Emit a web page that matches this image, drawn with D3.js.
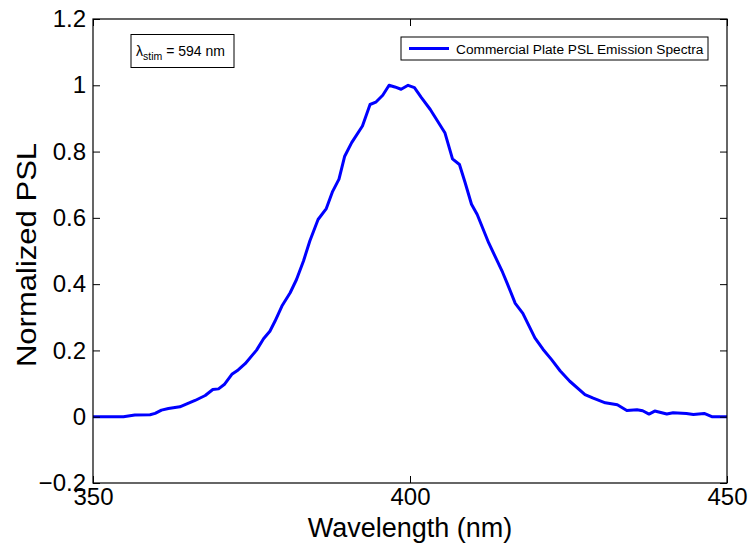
<!DOCTYPE html>
<html>
<head>
<meta charset="utf-8">
<script src="https://cdn.jsdelivr.net/npm/d3@7"></script>
<style>
  html, body { margin: 0; padding: 0; background: #fff; }
  svg { display: block; }
  text { font-family: "Liberation Sans", Arial, Helvetica, sans-serif; fill: #000; }
</style>
</head>
<body>
<svg id="chart" width="752" height="550"></svg>
<script>
const wavelength = [350, 354.8, 356.6, 359, 359.8, 360.8, 361.9, 363.7, 364.8, 366.1, 367.7, 368.9, 369.8, 370.7, 371.9, 372.9, 374, 375.8, 376.9, 377.9, 378.7, 379.8, 381.1, 382.1, 383.2, 384.2, 385.5, 386.8, 387.8, 388.8, 389.7, 390.8, 392.5, 393.7, 394.6, 395.7, 396.7, 397.6, 398.6, 399.7, 400.7, 401.8, 403.2, 405.5, 406.7, 407.8, 408.7, 409.7, 410.6, 412.4, 414.6, 415.3, 416.6, 417.8, 419.7, 421, 422.3, 423.7, 425.2, 427.6, 428.9, 430.8, 432.7, 434.2, 435.8, 436.7, 437.7, 438.6, 440.5, 441.5, 443.6, 444.7, 446.4, 447.6, 450];
const psl = [0, 0, 0.005, 0.006, 0.01, 0.02, 0.025, 0.03, 0.039, 0.049, 0.064, 0.082, 0.084, 0.097, 0.128, 0.141, 0.16, 0.201, 0.235, 0.258, 0.288, 0.334, 0.374, 0.414, 0.47, 0.53, 0.595, 0.628, 0.68, 0.717, 0.786, 0.827, 0.877, 0.942, 0.949, 0.97, 1.0, 0.995, 0.988, 1.0, 0.993, 0.963, 0.927, 0.857, 0.778, 0.761, 0.706, 0.641, 0.61, 0.525, 0.436, 0.404, 0.342, 0.312, 0.238, 0.203, 0.173, 0.138, 0.107, 0.067, 0.056, 0.042, 0.036, 0.019, 0.021, 0.018, 0.008, 0.017, 0.008, 0.012, 0.01, 0.007, 0.01, 0.0, 0.0];
const xTicks = [350, 400, 450];
const yTicks = [-0.2, 0, 0.2, 0.4, 0.6, 0.8, 1, 1.2];
const seriesName = "Commercial Plate PSL Emission Spectra";
const xLabel = "Wavelength (nm)";
const yLabel = "Normalized PSL";

const svg = d3.select("#chart");
const L = 93, R = 727, T = 19, B = 483;
const x = d3.scaleLinear().domain([350, 450]).range([L, R]);
const y = d3.scaleLinear().domain([-0.2, 1.2]).range([B, T]);
const fmt = d => d < 0 ? "\u2212" + Math.abs(d) : String(d);
const tickLen = 7;

// Curve (clipped to plot)
svg.append("defs").append("clipPath").attr("id", "clip")
  .append("rect").attr("x", L).attr("y", T).attr("width", R - L).attr("height", B - T);
const line = d3.line().x((d, i) => x(wavelength[i])).y(d => y(d));
svg.append("path").datum(psl).attr("clip-path", "url(#clip)")
  .attr("d", line).attr("fill", "none").attr("stroke", "#0000ff")
  .attr("stroke-width", 3).attr("stroke-linejoin", "round");

// Axes (MATLAB style, inward ticks on all sides)
const axB = d3.axisBottom(x).tickValues(xTicks).tickSizeInner(-tickLen).tickSizeOuter(0).tickPadding(5).tickFormat(fmt);
const axT = d3.axisTop(x).tickValues(xTicks).tickSizeInner(-tickLen).tickSizeOuter(0).tickFormat("");
const axL = d3.axisLeft(y).tickValues(yTicks).tickSizeInner(-tickLen).tickSizeOuter(0).tickPadding(7).tickFormat(fmt);
const axR = d3.axisRight(y).tickValues(yTicks).tickSizeInner(-tickLen).tickSizeOuter(0).tickFormat("");

function style(g) {
  g.select(".domain").remove();
  g.selectAll(".tick line").attr("stroke", "#000").attr("stroke-width", 1);
  g.selectAll(".tick text").style("font-size", "24px").attr("fill", "#000");
}
svg.append("g").attr("transform", `translate(0,${B})`).call(axB).call(style);
svg.append("g").attr("transform", `translate(0,${T})`).call(axT).call(style);
svg.append("g").attr("transform", `translate(${L},0)`).call(axL).call(style);
svg.append("g").attr("transform", `translate(${R},0)`).call(axR).call(style);

svg.append("rect").attr("x", L).attr("y", T).attr("width", R - L).attr("height", B - T)
  .attr("fill", "none").attr("stroke", "#000").attr("stroke-width", 1.2);

// Axis labels
svg.append("text").attr("x", (L + R) / 2).attr("y", 537).attr("text-anchor", "middle")
  .style("font-size", "27px").text(xLabel);
svg.append("text").attr("transform", `translate(36,${(T + B) / 2 + 4}) rotate(-90) scale(1.15,1)`)
  .attr("text-anchor", "middle").style("font-size", "27px").text(yLabel);

// Annotation box
svg.append("rect").attr("x", 131).attr("y", 34.5).attr("width", 103).attr("height", 33)
  .attr("fill", "#fff").attr("stroke", "#000").attr("stroke-width", 1);
const ann = svg.append("text").attr("x", 136).attr("y", 56).style("font-size", "14px");
ann.append("tspan").text("\u03bb");
ann.append("tspan").attr("dy", 4).style("font-size", "10.5px").text("stim");
ann.append("tspan").attr("dy", -4).text(" = 594 nm");

// Legend
svg.append("rect").attr("x", 401).attr("y", 37).attr("width", 307).attr("height", 23)
  .attr("fill", "#fff").attr("stroke", "#000").attr("stroke-width", 1);
svg.append("line").attr("x1", 409).attr("x2", 449).attr("y1", 48.5).attr("y2", 48.5)
  .attr("stroke", "#0000ff").attr("stroke-width", 3);
svg.append("text").attr("x", 456).attr("y", 53.5).style("font-size", "13.7px").text(seriesName);
</script>
</body>
</html>
